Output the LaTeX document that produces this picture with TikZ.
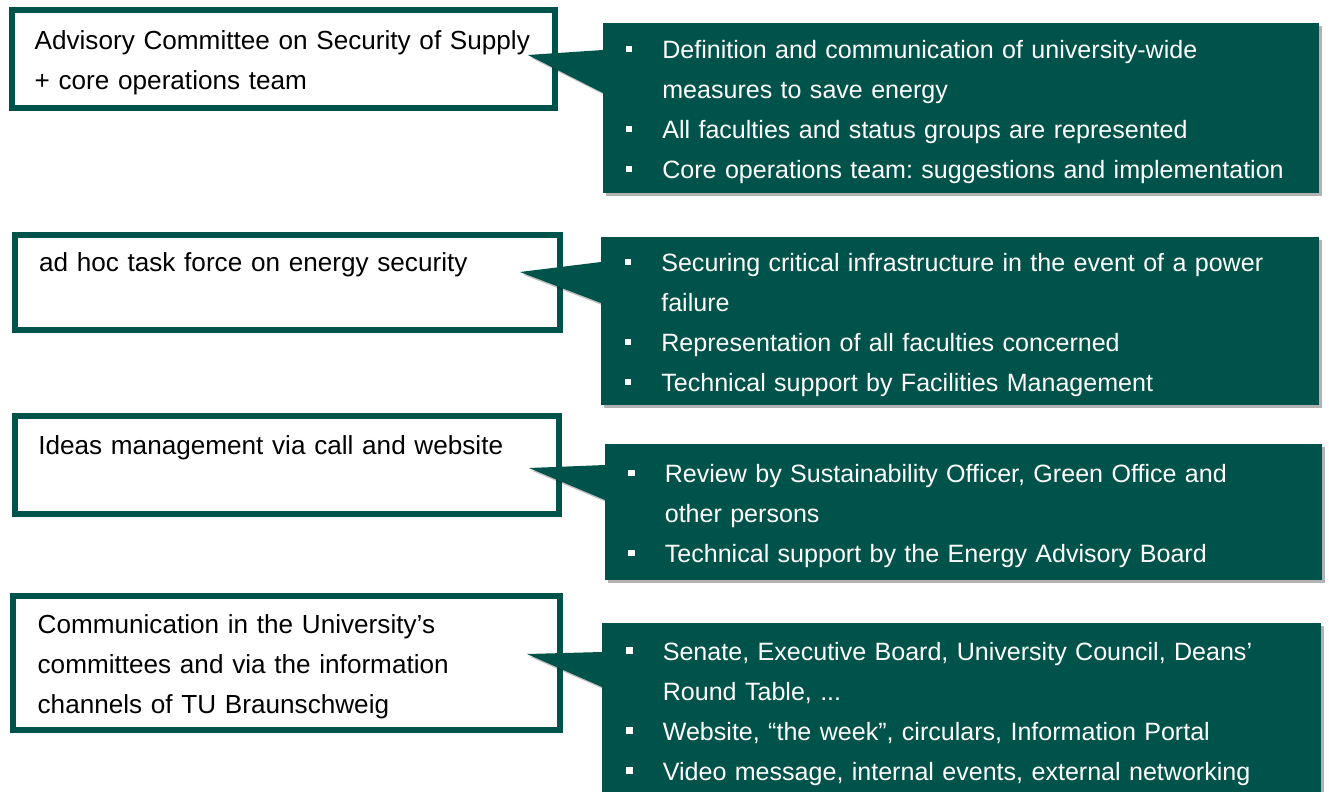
\documentclass[tikz,border=0pt]{standalone}
\usepackage{fontspec}
\setmainfont{Liberation Sans}
\usepackage{tikz}
\usetikzlibrary{positioning}
\usetikzlibrary{shadows}
\definecolor{tugreen}{RGB}{0,83,74}
\newcommand{\bul}{\makebox[27.5pt][l]{\raisebox{4.5pt}{\rule{5pt}{5pt}}}}
\newcommand{\cont}{\hspace*{27.5pt}}
\frenchspacing

\begin{document}
\begin{tikzpicture}[x=0.75pt,y=-0.75pt,
topicnode/.style={rectangle, draw=tugreen, line width=4.5pt, fill=white, anchor=north west, outer sep=0pt, inner xsep=17pt, inner ysep=0pt, text width=373pt, align=left, font=\fontsize{19.6}{30}\selectfont},
detailnode/.style={rectangle, fill=tugreen, text=white, anchor=north west, outer sep=0pt, inner xsep=17pt, inner ysep=0pt, text width=503pt, align=left, font=\fontsize{18.8}{30}\selectfont, execute at begin node={\rule{0pt}{19.5pt}}, drop shadow={shadow xshift=2.5pt, shadow yshift=-2.5pt, opacity=.3, fill=black}},
callout/.style={fill=tugreen, drop shadow={shadow xshift=2pt, shadow yshift=-2pt, opacity=.25, fill=black}},
]
\useasboundingbox (0,0) rectangle (1329,792);

%Nodes
\node[topicnode, minimum width=407pt, minimum height=73.5pt] (committee) at (12,10)
  {\rule{0pt}{19.5pt}Advisory Committee on Security of Supply\\+ core operations team};
\node[topicnode, minimum width=409pt, minimum height=71pt] (taskforce) at (15,235)
  {ad hoc task force on energy security\\\mbox{}};
\node[topicnode, minimum width=408pt, minimum height=73.5pt] (ideas) at (15,416)
  {Ideas management via call and website\\\mbox{}};
\node[topicnode, minimum width=410pt, minimum height=100.5pt] (communication) at (13,596)
  {\rule{0pt}{19.5pt}Communication in the University’s\\committees and via the information\\channels of TU Braunschweig};

\coordinate (tipcommittee) at (528,55);
\coordinate (tiptaskforce) at (520,272);
\coordinate (tipideas) at (529,468);
\coordinate (tipcommunication) at (527,654);

%Lines
\fill[callout] (603,50) -- (tipcommittee) -- (603,93) -- cycle;
\fill[callout] (601,262) -- (tiptaskforce) -- (601,303) -- cycle;
\fill[callout] (605,465) -- (tipideas) -- (605,500) -- cycle;
\fill[callout] (602,652) -- (tipcommunication) -- (602,687) -- cycle;

\node[detailnode, minimum width=537pt, minimum height=127.5pt] (committeetasks) at (603,23)
  {\bul Definition and communication of university-wide\\
   \cont measures to save energy\\
   \bul All faculties and status groups are represented\\
   \bul Core operations team: suggestions and implementation};
\node[detailnode, minimum width=538.5pt, minimum height=126pt] (taskforcetasks) at (601,237)
  {\bul Securing critical infrastructure in the event of a power\\
   \cont failure\\
   \bul Representation of all faculties concerned\\
   \bul Technical support by Facilities Management};
\node[detailnode, minimum width=537.75pt, minimum height=102pt] (ideastasks) at (605,444)
  {\bul Review by Sustainability Officer, Green Office and\\
   \cont other persons\\
   \bul Technical support by the Energy Advisory Board};
\node[detailnode, minimum width=539.25pt, minimum height=130pt] (communicationtasks) at (602,623)
  {\bul Senate, Executive Board, University Council, Deans’\\
   \cont Round Table, ...\\
   \bul Website, “the week”, circulars, Information Portal\\
   \bul Video message, internal events, external networking};
\end{tikzpicture}
\end{document}
